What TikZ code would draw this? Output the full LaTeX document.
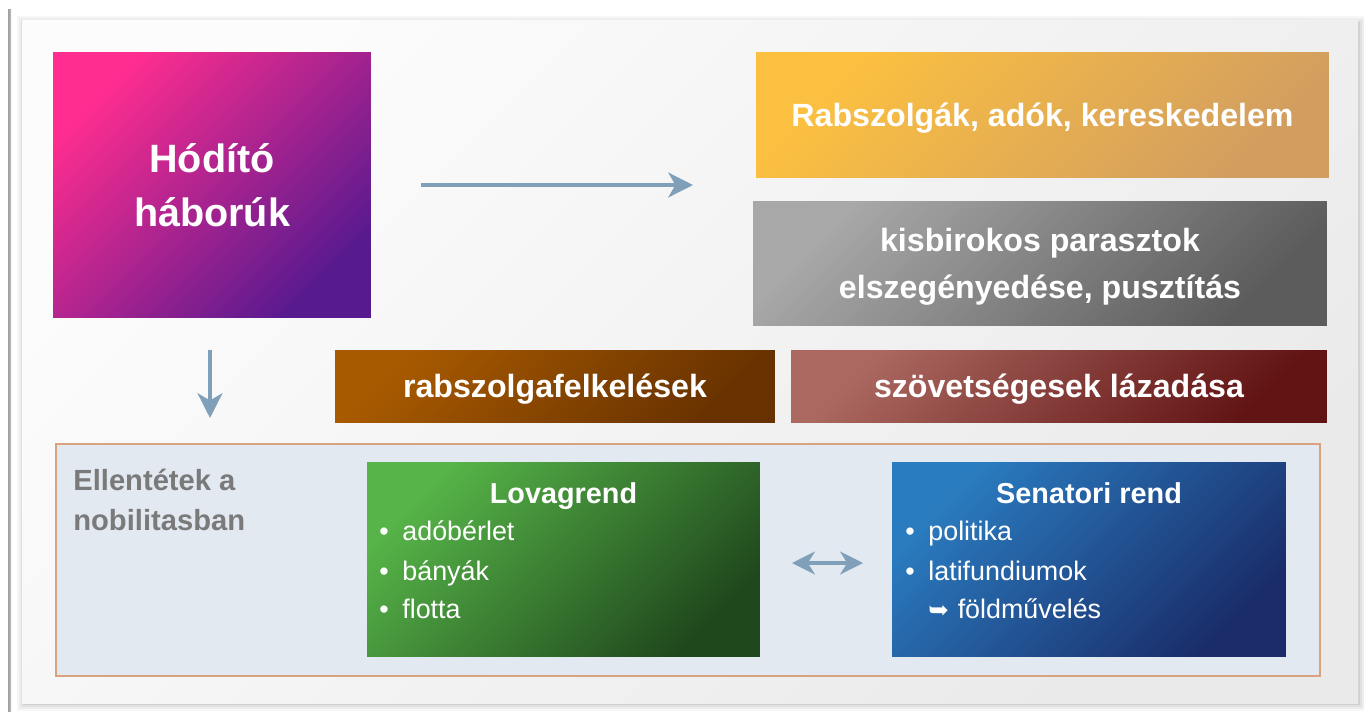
\documentclass[tikz,border=0pt]{standalone}
\usepackage{fontspec}
\setmainfont{Liberation Sans}
\newfontfamily\symfont{DejaVu Sans}
\usetikzlibrary{arrows.meta}
\definecolor{arrowblue}{RGB}{127,160,184}
\definecolor{pagelight}{RGB}{252,252,252}
\definecolor{pagedark}{RGB}{234,234,234}
\definecolor{framefill}{RGB}{226,233,241}
\definecolor{framedraw}{RGB}{217,163,127}
\definecolor{notegray}{RGB}{122,122,122}
\definecolor{warpink}{RGB}{255,45,143}
\definecolor{warpurple}{RGB}{88,26,143}
\definecolor{goodsyellow}{RGB}{252,192,64}
\definecolor{goodstan}{RGB}{210,158,96}
\definecolor{peasantlight}{RGB}{168,168,168}
\definecolor{peasantdark}{RGB}{92,92,92}
\definecolor{revoltlight}{RGB}{168,90,0}
\definecolor{revoltdark}{RGB}{104,50,0}
\definecolor{allieslight}{RGB}{170,104,96}
\definecolor{alliesdark}{RGB}{98,20,20}
\definecolor{knightlight}{RGB}{86,180,72}
\definecolor{knightdark}{RGB}{32,72,29}
\definecolor{senatlight}{RGB}{42,124,192}
\definecolor{senatdark}{RGB}{26,44,105}
\tikzstyle{box} = [rectangle, inner sep=0pt, outer sep=0pt, text=white, align=center, font=\bfseries\fontsize{18.3}{27}\selectfont]
\tikzstyle{title} = [inner sep=0pt, text=white, font=\bfseries\fontsize{16.4}{20}\selectfont]
\tikzstyle{item} = [inner sep=0pt, text=white, font=\fontsize{15.3}{20}\selectfont]
\tikzstyle{arrow} = [line width=2.8pt, draw=arrowblue, -{Stealth[length=14pt, width=14pt, inset=4pt]}]
\tikzstyle{twoarrow} = [line width=2.8pt, draw=arrowblue, {Stealth[length=13pt, width=13pt, inset=4pt]}-{Stealth[length=13pt, width=13pt, inset=4pt]}]

\begin{document}
\begin{tikzpicture}[x=0.02cm, y=-0.02cm]
     \useasboundingbox (0, 0) rectangle (1364, 711);
     % page with its shadow
     \foreach \d/\o in {8/0.03, 6/0.04, 4/0.05, 2/0.07}
          \fill[black, opacity=\o] (22-\d+3, 20-\d+4) rectangle (1358+\d, 703+\d);
     \shade[top color=pagelight, bottom color=pagedark, shading angle=45] (22, 20) rectangle (1358, 703);
     \fill[left color=gray!75, right color=gray!50] (8, 9) rectangle (11, 711);
     \node (hodito) at (212, 185) [box, minimum width=6.36cm, minimum height=5.32cm, top color=warpink, bottom color=warpurple, shading angle=45, font=\bfseries\fontsize{22.5}{31}\selectfont]
           {Hódító\\háborúk};
     \node (goods) at (1042.5, 115) [box, minimum width=11.46cm, minimum height=2.52cm, text depth=0pt, top color=goodsyellow, bottom color=goodstan, shading angle=45]
           {Rabszolgák, adók, kereskedelem};
     \node (peasants) at (1040, 263.5) [box, minimum width=11.48cm, minimum height=2.5cm, text depth=0pt, top color=peasantlight, bottom color=peasantdark, shading angle=45]
           {kisbirokos parasztok\\elszegényedése, pusztítás};
     \node (revolt) at (555, 386) [box, minimum width=8.8cm, minimum height=1.44cm, text depth=0pt, top color=revoltlight, bottom color=revoltdark, shading angle=45]
           {rabszolgafelkelések};
     \node (allies) at (1059, 386) [box, minimum width=10.72cm, minimum height=1.44cm, text depth=0pt, top color=allieslight, bottom color=alliesdark, shading angle=45]
           {szövetségesek lázadása};
     % nobilitas frame
     \node (frame) at (688, 560) [rectangle, inner sep=0pt, minimum width=25.28cm, minimum height=4.64cm, fill=framefill, draw=framedraw, line width=1.5pt] {};
     \node (note1) at (73, 490) [anchor=base west, inner sep=0pt, text=notegray, font=\bfseries\fontsize{16.6}{20}\selectfont] {Ellentétek a};
     \node (note2) at (73, 530) [anchor=base west, inner sep=0pt, text=notegray, font=\bfseries\fontsize{16.6}{20}\selectfont] {nobilitasban};
     \node (lovag) at (563.5, 559.5) [box, minimum width=7.86cm, minimum height=3.9cm, top color=knightlight, bottom color=knightdark, shading angle=45] {};
     \node (senat) at (1089, 559.5) [box, minimum width=7.88cm, minimum height=3.9cm, top color=senatlight, bottom color=senatdark, shading angle=45] {};
     \node (lovagtitle) at (563.5, 503) [title, anchor=base] {Lovagrend};
     \node (senattitle) at (1089, 503) [title, anchor=base] {Senatori rend};
     \foreach \t/\y [count=\i] in {adóbérlet/540, bányák/580, flotta/618} {
          \node (lovagdot\i) at (384, \y) [item, anchor=base] {\textbullet};
          \node (lovagitem\i) at (402, \y) [item, anchor=base west] {\t};
     }
     \foreach \t/\y [count=\i] in {politika/540, latifundiumok/580} {
          \node (senatdot\i) at (910, \y) [item, anchor=base] {\textbullet};
          \node (senatitem\i) at (928, \y) [item, anchor=base west] {\t};
     }
     \node (senatsub) at (928, 618) [item, anchor=base west] {{\symfont\fontsize{14}{15}\selectfont ➥}\hspace{5pt}földművelés};
     % arrows
     \coordinate (warend) at (421, 185);
     \coordinate (goodsend) at (693, 185);
     \coordinate (downstart) at (210, 350);
     \coordinate (downend) at (210, 418);
     \coordinate (lovagend) at (792, 563);
     \coordinate (senatend) at (863, 563);
     \draw[arrow] (warend) -- (goodsend);
     \draw[arrow] (downstart) -- (downend);
     \draw[twoarrow] (lovagend) -- (senatend);
\end{tikzpicture}
\end{document}
